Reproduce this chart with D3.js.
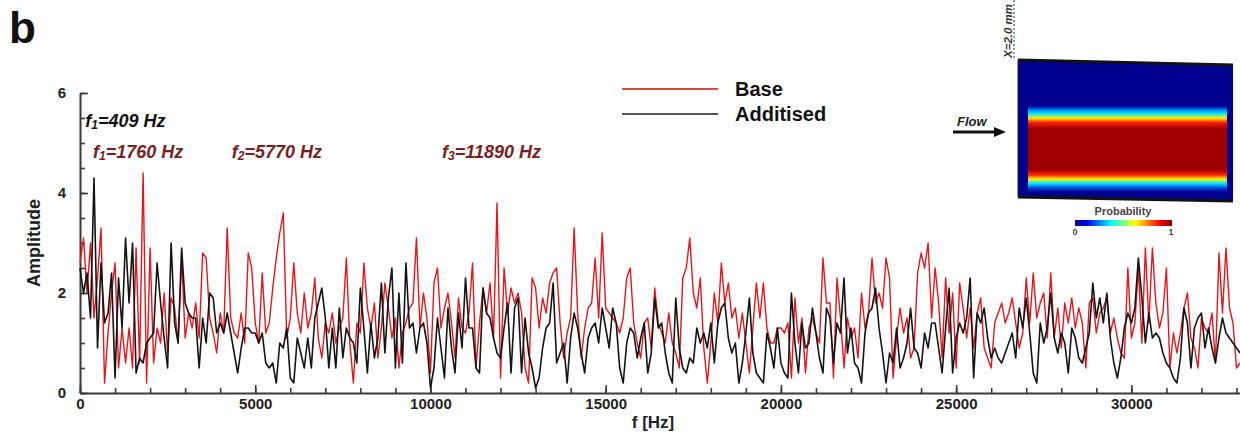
<!DOCTYPE html>
<html>
<head>
<meta charset="utf-8">
<script src="https://cdn.jsdelivr.net/npm/d3@7"></script>
<style>
  html, body { margin: 0; padding: 0; background: #fff; }
  svg { display: block; font-family: Arial, 'Liberation Sans', sans-serif; }
</style>
</head>
<body>
<svg id="chart" width="1240" height="437"></svg>
<script>
const freqStep = 100

const base = [
  2.6, 3.1, 2.0, 3.0, 1.5, 2.3, 3.3, 0.2, 1.2, 2.0,
  2.6, 0.5, 1.3, 0.6, 1.3, 0.5, 2.9, 0.6, 4.4, 0.2,
  2.9, 0.6, 1.3, 1.0, 2.0, 0.8, 1.9, 1.7, 1.0, 2.7,
  1.1, 1.6, 1.3, 1.8, 1.1, 2.8, 2.7, 1.5, 1.2, 0.8,
  1.6, 1.2, 3.3, 1.5, 1.2, 1.1, 1.6, 1.0, 2.8, 2.5,
  1.4, 1.0, 2.4, 1.2, 1.4, 2.1, 2.7, 3.2, 3.6, 1.1,
  1.5, 2.6, 1.6, 1.2, 2.0, 1.3, 1.6, 2.3, 1.1, 0.7,
  1.4, 1.2, 1.6, 1.0, 1.3, 1.5, 2.7, 1.0, 0.2, 1.4,
  1.2, 2.6, 1.7, 1.3, 1.8, 0.7, 1.3, 2.2, 1.7, 1.1,
  1.5, 0.5, 1.2, 1.4, 1.7, 1.8, 3.1, 1.3, 2.0, 1.5,
  0.4, 2.2, 2.5, 1.3, 1.7, 2.0, 1.4, 0.7, 1.9, 1.3,
  1.2, 1.6, 2.6, 0.5, 1.4, 2.1, 1.6, 2.2, 1.1, 3.8,
  0.3, 2.5, 1.6, 2.1, 1.8, 2.0, 1.6, 0.5, 0.2, 2.3,
  2.1, 1.3, 1.9, 1.6, 2.2, 2.4, 2.5, 1.4, 0.7, 1.2,
  1.5, 3.3, 1.6, 0.7, 1.3, 1.7, 1.8, 2.7, 1.5, 3.2,
  1.7, 1.6, 1.5, 1.4, 1.2, 1.5, 2.3, 2.5, 1.4, 1.0,
  0.7, 1.4, 1.5, 0.9, 2.1, 1.4, 1.2, 1.0, 1.6, 1.0,
  0.8, 0.5, 2.3, 2.5, 3.1, 2.0, 1.7, 2.3, 0.9, 0.2,
  1.0, 2.0, 1.4, 2.6, 1.8, 2.2, 1.5, 1.7, 1.1, 1.6,
  1.0, 0.4, 1.3, 2.2, 1.5, 2.2, 1.3, 1.0, 1.0, 1.3,
  1.3, 1.2, 1.4, 0.3, 1.9, 1.0, 1.5, 0.4, 1.3, 1.5,
  1.2, 1.0, 2.7, 1.8, 1.8, 0.3, 2.3, 1.5, 0.5, 1.5,
  1.1, 1.3, 0.7, 2.0, 1.3, 1.6, 2.7, 1.8, 2.0, 1.7,
  2.7, 2.3, 0.3, 1.1, 1.7, 1.2, 1.5, 0.7, 0.9, 2.4,
  2.8, 2.5, 3.0, 1.5, 2.5, 1.8, 0.7, 2.3, 1.2, 2.0,
  0.5, 2.2, 1.7, 1.1, 1.7, 0.9, 1.6, 1.9, 0.9, 0.7,
  0.5, 1.4, 1.6, 1.8, 1.4, 1.6, 1.9, 1.4, 0.9, 1.2,
  2.3, 1.4, 2.4, 1.5, 1.8, 2.0, 1.1, 2.4, 1.1, 1.7,
  0.9, 1.8, 1.4, 1.9, 1.3, 1.7, 1.4, 0.5, 1.8, 1.9,
  1.2, 1.6, 1.7, 1.9, 1.2, 1.5, 1.1, 0.8, 0.7, 2.5,
  1.1, 1.4, 2.5, 1.0, 2.9, 1.4, 2.9, 1.8, 1.3, 1.6,
  2.5, 0.5, 1.2, 0.8, 1.2, 1.7, 2.0, 1.1, 0.9, 0.5,
  1.5, 1.3, 1.2, 1.6, 0.6, 2.8, 1.6, 2.9, 1.7, 1.4,
  0.5, 0.6
]

const additised = [
  2.5, 2.0, 2.4, 1.5, 4.3, 0.9, 2.6, 1.4, 1.6, 2.4,
  0.3, 2.3, 1.3, 3.1, 1.8, 3.0, 0.4, 0.7, 0.6, 1.0,
  1.1, 1.2, 2.6, 1.8, 1.1, 0.5, 3.0, 1.4, 1.0, 2.9,
  1.8, 1.6, 1.5, 1.5, 0.5, 1.5, 1.0, 2.0, 1.9, 1.2,
  1.4, 1.2, 1.6, 1.2, 0.8, 0.4, 0.9, 1.3, 1.3, 1.2,
  1.2, 1.0, 1.2, 0.6, 0.5, 0.6, 0.2, 1.0, 0.9, 1.3,
  0.3, 0.2, 1.1, 0.8, 0.5, 1.1, 0.5, 1.5, 1.8, 2.1,
  1.5, 0.5, 1.3, 0.5, 1.7, 0.7, 1.3, 1.1, 1.0, 0.6,
  2.1, 1.3, 0.4, 1.4, 0.7, 1.1, 2.2, 0.8, 1.9, 2.5,
  0.5, 2.0, 0.6, 2.6, 1.3, 1.4, 0.8, 1.3, 1.4, 1.0,
  0.1, 0.5, 1.5, 0.9, 0.3, 1.7, 0.9, 0.4, 1.6, 0.9,
  2.3, 1.3, 1.3, 0.5, 0.4, 2.1, 1.6, 1.5, 1.1, 0.8,
  0.7, 1.3, 1.8, 0.4, 1.7, 1.9, 0.4, 1.5, 0.8, 0.5,
  0.1, 0.3, 0.9, 1.3, 1.4, 2.2, 0.6, 0.8, 1.0, 0.2,
  1.1, 1.6, 1.3, 0.8, 0.4, 1.1, 1.3, 1.4, 1.0, 1.7,
  1.3, 0.9, 1.7, 1.4, 0.5, 0.2, 1.0, 1.3, 1.2, 0.7,
  1.1, 1.4, 0.4, 0.8, 1.9, 1.3, 1.4, 0.8, 0.4, 0.2,
  1.9, 0.9, 0.5, 0.4, 0.7, 0.6, 1.3, 1.0, 1.2, 0.9,
  1.4, 0.6, 1.4, 1.7, 1.8, 1.1, 0.8, 1.0, 0.2, 0.6,
  1.2, 1.9, 0.8, 0.4, 0.3, 0.2, 1.2, 0.9, 0.5, 1.3,
  0.6, 0.4, 0.3, 2.0, 1.0, 0.4, 1.4, 0.9, 1.0, 1.7,
  1.2, 0.7, 0.4, 1.7, 1.5, 0.6, 1.4, 1.2, 2.3, 0.8,
  1.3, 0.6, 0.5, 0.2, 1.2, 1.6, 1.7, 2.1, 1.3, 0.8,
  0.2, 0.8, 0.6, 1.3, 0.5, 0.7, 1.0, 1.7, 0.9, 0.8,
  0.5, 1.2, 0.9, 1.4, 1.4, 0.9, 0.4, 1.3, 2.1, 0.4,
  1.1, 1.4, 1.2, 1.5, 2.3, 0.3, 1.6, 1.4, 1.7, 1.1,
  0.7, 0.9, 0.7, 0.6, 0.8, 1.0, 1.2, 0.7, 1.7, 1.3,
  1.9, 1.2, 0.4, 0.2, 1.4, 1.0, 1.3, 2.0, 1.1, 0.8,
  1.2, 1.0, 0.4, 1.3, 1.1, 0.7, 0.6, 0.9, 1.2, 2.2,
  1.5, 1.9, 1.4, 2.0, 1.1, 0.6, 0.3, 0.7, 1.3, 1.6,
  1.4, 1.7, 2.7, 1.9, 1.0, 1.6, 1.1, 1.2, 1.1, 0.8,
  0.6, 0.5, 0.3, 0.2, 0.7, 1.7, 1.4, 0.5, 1.3, 1.5,
  1.6, 0.9, 1.3, 0.9, 0.6, 1.1, 1.5, 1.2, 1.1, 1.0,
  0.9, 0.8
]

const seriesNames = ['Base', 'Additised']
const seriesColors = ['#e3161c', '#141414']
const legendColors = ['#e04848', '#555555']

const xMajorTicks = [0, 5000, 10000, 15000, 20000, 25000, 30000]
const yMajorTicks = [0, 2, 4, 6]

// peak annotations: [main text, subscript, rest, color, left edge in Hz, row]
const peakNotes = [
  ['f', '1', '=409 Hz', '#111111', 150, 0],
  ['f', '1', '=1760 Hz', '#7a1e22', 370, 1],
  ['f', '2', '=5770 Hz', '#7a1e22', 4330, 1],
  ['f', '3', '=11890 Hz', '#7a1e22', 10330, 1]
]

const margin = { top: 93, right: 0, bottom: 44, left: 80 }
const svgWidth = 1240
const svgHeight = 437
const width = svgWidth - margin.left - margin.right
const height = svgHeight - margin.top - margin.bottom

const svg = d3.select('#chart')
const g = svg.append('g')
  .attr('transform', `translate(${margin.left}, ${margin.top})`)

const x = d3.scaleLinear().domain([0, 33100]).range([0, width])
const y = d3.scaleLinear().domain([0, 6]).range([height, 0])

const toPoints = vals => vals.map((v, i) => ({ f: i * freqStep, a: v }))
const data = [toPoints(base), toPoints(additised)]

const axisColor = '#3a3a3a'

// minor ticks
g.append('g')
  .attr('transform', `translate(0, ${height})`)
  .call(d3.axisBottom(x).tickValues(d3.range(0, 33001, 1000)).tickSize(-5).tickFormat(''))
  .call(a => a.select('.domain').remove())
g.append('g')
  .call(d3.axisLeft(y).tickValues(d3.range(0, 6.01, 0.5)).tickSize(-5).tickFormat(''))
  .call(a => a.select('.domain').remove())

// major axes
const xAxis = g.append('g')
  .attr('transform', `translate(0, ${height})`)
  .call(d3.axisBottom(x).tickValues(xMajorTicks).tickFormat(d3.format('d'))
    .tickSizeInner(-8).tickSizeOuter(0).tickPadding(5))
const yAxis = g.append('g')
  .call(d3.axisLeft(y).tickValues(yMajorTicks).tickFormat(d3.format('d'))
    .tickSizeInner(-8).tickSizeOuter(0).tickPadding(14))

g.selectAll('.tick line').attr('stroke', axisColor).attr('stroke-width', 1.6)
g.selectAll('.domain').attr('stroke', axisColor).attr('stroke-width', 2)
g.selectAll('.tick text')
  .attr('font-family', 'Arial, Liberation Sans, sans-serif')
  .attr('font-size', 15).attr('font-weight', 'bold').attr('fill', '#222')

// lines
const line = d3.line()
  .x(d => x(d.f))
  .y(d => y(d.a))

data.forEach((set, i) => {
  g.append('path')
    .datum(set)
    .attr('fill', 'none')
    .attr('stroke', seriesColors[i])
    .attr('stroke-width', i === 0 ? 1.4 : 1.6)
    .attr('stroke-linejoin', 'round')
    .attr('d', line)
})

// axis titles
svg.append('text')
  .attr('transform', 'translate(40, 243) rotate(-90)')
  .attr('text-anchor', 'middle')
  .attr('font-size', 18).attr('font-weight', 'bold').attr('fill', '#222')
  .text('Amplitude')

svg.append('text')
  .attr('x', 653).attr('y', 428)
  .attr('text-anchor', 'middle')
  .attr('font-size', 17).attr('font-weight', 'bold').attr('fill', '#222')
  .text('f [Hz]')

// panel letter
svg.append('text')
  .attr('x', 9).attr('y', 43)
  .attr('font-size', 44).attr('font-weight', 'bold').attr('fill', '#111')
  .text('b')

// peak notes
peakNotes.forEach(n => {
  const t = g.append('text')
    .attr('x', x(n[4]))
    .attr('y', n[5] === 0 ? 34 : 65)
    .attr('font-size', 18).attr('font-weight', 'bold').attr('font-style', 'italic')
    .attr('fill', n[3])
  t.append('tspan').text(n[0])
  t.append('tspan').attr('font-size', 12).attr('dy', 2).text(n[1])
  t.append('tspan').attr('dy', -2).text(n[2])
})

// legend
const legend = svg.append('g').attr('transform', 'translate(622, 89)')
seriesNames.forEach((name, i) => {
  const row = legend.append('g').attr('transform', `translate(0, ${i * 25})`)
  row.append('line')
    .attr('x1', 0).attr('x2', 96).attr('y1', 0).attr('y2', 0)
    .attr('stroke', legendColors[i]).attr('stroke-width', 2)
  row.append('text')
    .attr('x', 113).attr('y', 7)
    .attr('font-size', 20).attr('font-weight', 'bold').attr('fill', '#111')
    .text(name)
})

// inset: probability map
const defs = svg.append('defs')
const band = defs.append('linearGradient')
  .attr('id', 'band').attr('gradientUnits', 'userSpaceOnUse')
  .attr('x1', 0).attr('y1', 106).attr('x2', 0).attr('y2', 192)
const bandStops = [
  [0, '#00008f'], [0.05, '#0090ff'], [0.09, '#00e8ff'], [0.14, '#ffee00'], [0.19, '#ff2000'],
  [0.26, '#a00000'], [0.74, '#a00000'], [0.8, '#ff2000'], [0.85, '#ffee00'],
  [0.9, '#00e8ff'], [0.95, '#0050e0'], [1, '#00008f']
]
band.selectAll('stop').data(bandStops).join('stop')
  .attr('offset', d => d[0]).attr('stop-color', d => d[1])

const jet = defs.append('linearGradient').attr('id', 'jet')
const jetStops = [
  [0, '#00007f'], [0.125, '#0000ff'], [0.375, '#00ffff'],
  [0.625, '#ffff00'], [0.875, '#ff0000'], [1, '#7f0000']
]
jet.selectAll('stop').data(jetStops).join('stop')
  .attr('offset', d => d[0]).attr('stop-color', d => d[1])

const inset = svg.append('g')
inset.append('path')
  .attr('d', 'M1018,60 L1233,65 L1233,201 L1018,197 Z')
  .attr('fill', '#00008f')
inset.append('rect')
  .attr('x', 1028).attr('y', 106).attr('width', 199).attr('height', 86)
  .attr('fill', 'url(#band)')
inset.append('line')
  .attr('x1', 1018).attr('y1', 60).attr('x2', 1233).attr('y2', 65)
  .attr('stroke', '#111').attr('stroke-width', 3)
inset.append('line')
  .attr('x1', 1018).attr('y1', 197).attr('x2', 1233).attr('y2', 201)
  .attr('stroke', '#111').attr('stroke-width', 3)
inset.append('line')
  .attr('x1', 1018).attr('y1', 60).attr('x2', 1018).attr('y2', 197)
  .attr('stroke', '#222').attr('stroke-width', 1)

inset.append('line')
  .attr('x1', 1014).attr('y1', 0).attr('x2', 1014).attr('y2', 58)
  .attr('stroke', '#777').attr('stroke-width', 1.5).attr('stroke-dasharray', '2,2')
inset.append('text')
  .attr('transform', 'translate(1012, 58) rotate(-90)')
  .attr('font-size', 11.5).attr('font-weight', 'bold').attr('font-style', 'italic')
  .attr('fill', '#333')
  .text('X=2.0 mm')

inset.append('text')
  .attr('x', 957).attr('y', 126)
  .attr('font-size', 13).attr('font-weight', 'bold').attr('font-style', 'italic')
  .attr('fill', '#222')
  .text('Flow')
inset.append('line')
  .attr('x1', 953).attr('y1', 132).attr('x2', 998).attr('y2', 132)
  .attr('stroke', '#111').attr('stroke-width', 3)
inset.append('path')
  .attr('d', 'M994,127 L1006,132 L994,137 Z')
  .attr('fill', '#111')

inset.append('text')
  .attr('x', 1123).attr('y', 215)
  .attr('text-anchor', 'middle')
  .attr('font-size', 11).attr('font-weight', 'bold').attr('fill', '#444')
  .text('Probability')
inset.append('rect')
  .attr('x', 1075).attr('y', 220).attr('width', 97).attr('height', 6)
  .attr('fill', 'url(#jet)')
inset.append('text')
  .attr('x', 1075).attr('y', 235).attr('text-anchor', 'middle')
  .attr('font-size', 9).attr('font-weight', 'bold').attr('fill', '#444')
  .text('0')
inset.append('text')
  .attr('x', 1171).attr('y', 235).attr('text-anchor', 'middle')
  .attr('font-size', 9).attr('font-weight', 'bold').attr('fill', '#444')
  .text('1')
</script>
</body>
</html>
